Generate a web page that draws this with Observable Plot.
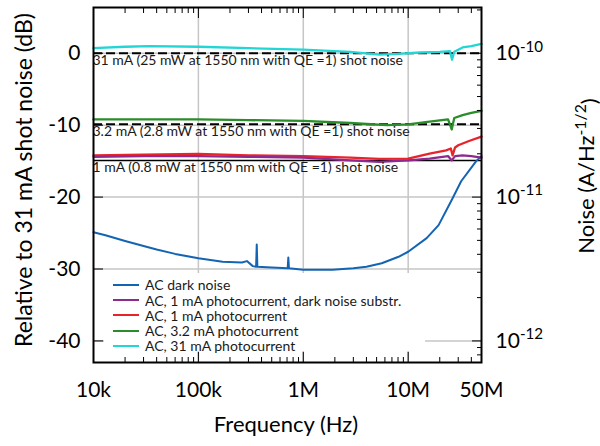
<!DOCTYPE html>
<html><head><meta charset="utf-8">
<script src="https://cdn.jsdelivr.net/npm/d3@7"></script>
<script src="https://cdn.jsdelivr.net/npm/@observablehq/plot@0.6"></script>
<style>
body{margin:0;background:#fff;}
#wrap{position:relative;width:600px;height:446px;font-family:Lato,sans-serif;}
#legend{position:absolute;left:104px;top:273px;width:321px;height:78px;padding-top:4.4px;box-sizing:border-box;background:#fff;font-size:14px;line-height:15.2px;color:#1a1a1a;}
.row{height:15.2px;display:flex;align-items:center;white-space:nowrap;}
.sw{width:26px;height:2px;margin-left:9px;margin-right:6px;flex:none;}
</style></head><body><div id="wrap"><div id="legend"></div></div>
<script>
// ---- data (frequency in Hz, level in dB rel. 31 mA shot noise)
const seriesNames = ["AC dark noise", "AC, 1 mA photocurrent, dark noise substr.", "AC, 1 mA photocurrent", "AC, 3.2 mA photocurrent", "AC, 31 mA photocurrent"];
const seriesColors = ["#1464b4", "#8e2a8e", "#e8232a", "#2a8c2a", "#22d6d6"];

const darkFreq = [1e4, 1.3e4, 2e4, 3e4, 4e4, 6e4, 1e5, 1.7e5, 2.6e5, 2.9e5, 3.3e5, 3.55e5, 3.6e5, 3.65e5, 5e5, 7.1e5, 7.2e5, 7.3e5, 1e6, 1.9e6, 3e6, 4e6, 5.6e6, 8.1e6, 1e7, 1.5e7, 1.95e7, 2.6e7, 3.2e7, 4.45e7, 5e7];
const darkDb   = [-24.9, -25.3, -26.1, -26.8, -27.3, -27.9, -28.5, -29.0, -29.1, -28.9, -29.6, -29.7, -26.6, -29.7, -29.8, -29.9, -28.4, -29.9, -30.1, -30.1, -29.9, -29.7, -29.2, -28.3, -27.6, -25.7, -23.9, -20.4, -17.8, -15.0, -14.3];

const sub1Freq = [1e4, 3e4, 1e5, 3e5, 1e6, 2.8e6, 5.3e6, 1e7, 1.6e7, 2.4e7, 2.6e7, 2.8e7, 3.3e7, 4e7, 5e7];
const sub1Db   = [-14.4, -14.3, -14.3, -14.4, -14.5, -14.9, -15.1, -14.9, -14.65, -14.3, -14.9, -14.3, -14.2, -14.3, -14.5];

const pc1Freq = [1e4, 3e4, 1e5, 3e5, 1e6, 2.8e6, 5.3e6, 1e7, 1.6e7, 2.3e7, 2.55e7, 2.65e7, 2.8e7, 3e7, 3.8e7, 5e7];
const pc1Db   = [-14.2, -14.1, -14.0, -14.2, -14.3, -14.5, -14.7, -14.65, -13.95, -13.5, -13.25, -14.2, -13.1, -12.8, -12.2, -11.6];

const pc32Freq = [1e4, 3e4, 1e5, 3e5, 1e6, 2.8e6, 6.3e6, 1e7, 1.6e7, 2.4e7, 2.6e7, 2.75e7, 3.3e7, 4e7, 5e7];
const pc32Db   = [-9.2, -9.2, -9.2, -9.3, -9.4, -9.7, -10.0, -9.9, -9.5, -9.2, -10.6, -9.0, -8.6, -8.3, -8.0];

const pc31Freq = [1e4, 2e4, 3.4e4, 1e5, 3e5, 1e6, 2.8e6, 5.3e6, 8e6, 1.3e7, 2e7, 2.5e7, 2.62e7, 2.75e7, 3.3e7, 4e7, 5e7];
const pc31Db   = [0.7, 0.9, 1.0, 0.9, 0.7, 0.5, 0.2, -0.2, -0.1, 0.1, 0.2, 0.3, -0.9, 0.2, 0.8, 1.0, 1.3];

const shotLevels = [0, -9.86, -14.91];
const shotLabels = ["31 mA (25 mW at 1550 nm with QE =1) shot noise", "3.2 mA (2.8 mW at 1550 nm with QE =1) shot noise", "1 mA (0.8 mW at 1550 nm with QE =1) shot noise"];
const shotDashed = [true, true, false];

const xTickValues = [1e4, 1e5, 1e6, 1e7, 5e7];
const xTickLabels = ["10k", "100k", "1M", "10M", "50M"];
const yTickValues = [-40, -30, -20, -10, 0];
const yTickLabels = ["-40", "-30", "-20", "-10", "0"];
const rightDecades = [-12, -11, -10];
const rightTickLabels = ["10^-12", "10^-11", "10^-10"];
const rightRef = 1e-10; // 0 dB on the left axis
const xLabel = "Frequency (Hz)";
const yLabel = "Relative to 31 mA shot noise (dB)";
const y2Label = ["Noise (A/Hz", "-1/2", ")"];

// ---- build tables
const freqs = [darkFreq, sub1Freq, pc1Freq, pc32Freq, pc31Freq];
const dbs = [darkDb, sub1Db, pc1Db, pc32Db, pc31Db];
const drawOrder = [0, 2, 1, 3, 4];
const xDomain = [1e4, 5e7];
const yDomain = [-43, 6.36];

const xMinor = [];
for (let d = 4; d <= 7; d++) for (let m = 2; m <= 9; m++) { const v = m * 10 ** d; if (v < 5e7) xMinor.push(v); }
const toDb = v => 20 * Math.log10(v / rightRef);
const rMajor = rightDecades.map(d => toDb(10 ** d));
const rMinor = [];
for (let d = -13; d <= -10; d++) for (let m = 2; m <= 9; m++) { const v = toDb(m * 10 ** d); if (v > yDomain[0] && v < yDomain[1]) rMinor.push(v); }
const rLabelMap = new Map(rMajor.map((v, i) => [v, rightTickLabels[i]]));
const yLabelMap = new Map(yTickValues.map((v, i) => [v, yTickLabels[i]]));
const xTicks = xTickValues.map((v, i) => ({v, label: xTickLabels[i]}));

const shots = shotLevels.map((v, i) => ({v, label: shotLabels[i], dashed: shotDashed[i]}));

const marks = [
  Plot.ruleX(xTickValues.slice(1, 4), {stroke: "#c6c6c6", strokeWidth: 1.5}),
  Plot.ruleY(yTickValues, {stroke: "#c6c6c6", strokeWidth: 1.5}),
  Plot.ruleY(shots.filter(s => s.dashed), {y: "v", stroke: "#000", strokeWidth: 2, strokeDasharray: "9,4"}),
  Plot.ruleY(shots.filter(s => !s.dashed), {y: "v", stroke: "#000", strokeWidth: 1.6})
];
for (const k of drawOrder) {
  const rows = freqs[k].map((f, i) => ({f, db: dbs[k][i]}));
  marks.push(Plot.line(rows, {x: "f", y: "db", stroke: seriesColors[k], strokeWidth: k === 0 ? 2 : 2.3}));
}
marks.push(
  Plot.text(shots, {y: "v", text: "label", frameAnchor: "left", textAnchor: "start", lineAnchor: "top", dx: -1, dy: 2, fontSize: 14, fill: "#1a1a1a"}),
  Plot.frame({stroke: "#000", strokeWidth: 2}),
  // left axis
  Plot.axisY({anchor: "left", ticks: yTickValues, tickSize: -10, tickFormat: () => "", label: null}),
  Plot.axisY({anchor: "left", ticks: yTickValues, tickSize: 0, tickPadding: 13, tickFormat: d => yLabelMap.get(d), fontSize: 21, label: null}),
  // right axis (log amplitude)
  Plot.axisY({anchor: "right", ticks: rMinor, tickSize: -5, tickFormat: () => "", label: null}),
  Plot.axisY({anchor: "right", ticks: rMajor, tickSize: -10, tickFormat: () => "", label: null}),
  Plot.axisY({anchor: "right", ticks: rMajor, tickSize: 0, tickPadding: 14, tickFormat: d => rLabelMap.get(d), fontSize: 21, label: null}),
  // bottom and top axes (ticks)
  Plot.axisX({anchor: "bottom", ticks: xMinor, tickSize: -5, tickFormat: () => "", label: null}),
  Plot.axisX({anchor: "bottom", ticks: xTickValues, tickSize: -10, tickFormat: () => "", label: null}),
  Plot.axisX({anchor: "top", ticks: xMinor, tickSize: -5, tickFormat: () => "", label: null}),
  Plot.axisX({anchor: "top", ticks: xTickValues, tickSize: -10, tickFormat: () => "", label: null}),
  // bottom tick labels (log tick formatter would hide 50M)
  Plot.text(xTicks, {x: "v", text: "label", frameAnchor: "bottom", lineAnchor: "top", dy: 20, fontSize: 21, fill: "#000"})
);

const svg = Plot.plot({
  width: 600, height: 446,
  marginLeft: 93, marginRight: 119, marginTop: 7, marginBottom: 84,
  style: {fontFamily: "Lato, sans-serif", color: "#000", background: "#fff", overflow: "visible"},
  x: {type: "log", domain: xDomain},
  y: {domain: yDomain},
  marks
});

const s = d3.select(svg);
s.selectAll("text").each(function () {
  const t = this.textContent;
  if (t.includes("^")) {
    const [base, exp] = t.split("^");
    const sel = d3.select(this);
    sel.text(base);
    sel.append("tspan").attr("dy", "-0.55em").attr("font-size", "0.72em").text(exp);
  }
});
s.append("text").attr("transform", "translate(32,180) rotate(-90)").attr("text-anchor", "middle")
  .attr("font-size", 23).attr("fill", "#000").text(yLabel);
const t2 = s.append("text").attr("transform", "translate(594,176) rotate(-90)").attr("text-anchor", "middle")
  .attr("font-size", 22).attr("fill", "#000");
t2.append("tspan").text(y2Label[0]);
t2.append("tspan").attr("dy", "-0.5em").attr("font-size", "0.72em").text(y2Label[1]);
t2.append("tspan").attr("dy", "0.5em").text(y2Label[2]);
s.append("text").attr("x", 286).attr("y", 432).attr("text-anchor", "middle")
  .attr("font-size", 22).attr("fill", "#000").text(xLabel);

const wrap = document.getElementById("wrap");
wrap.insertBefore(svg, wrap.firstChild);

const legend = document.getElementById("legend");
seriesNames.forEach((n, i) => {
  const row = document.createElement("div"); row.className = "row";
  const sw = document.createElement("div"); sw.className = "sw"; sw.style.background = seriesColors[i];
  const tx = document.createElement("span"); tx.textContent = n;
  row.appendChild(sw); row.appendChild(tx); legend.appendChild(row);
});
</script></body></html>
